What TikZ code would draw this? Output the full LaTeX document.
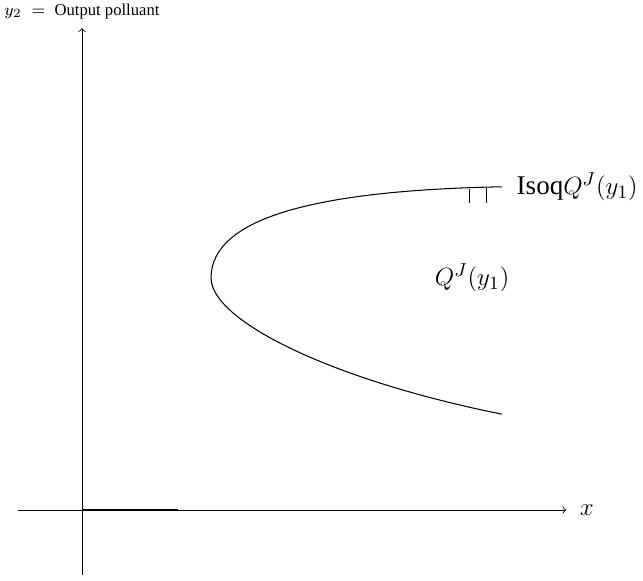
\documentclass[tikz,border=0pt]{standalone}
\usepackage[no-math]{fontspec}
\setmainfont{Liberation Serif}
\usetikzlibrary{positioning}

\begin{document}
\begin{tikzpicture}[
  axis/.style={->, >=to},
  isoq/.style={line width=0.5pt},
  every node/.style={font=\fontsize{13}{15}\selectfont}
]
\useasboundingbox (-1.385,-1.182) rectangle (9.476,8.615);

% axes
\coordinate (O) at (0,0);
\coordinate (xend) at (8.18,0);
\coordinate (yend) at (0,8.14);
\draw[axis] (-1.08,0) -- (xend) node[right=3pt] (xlab) {$x$};
\draw[axis] (0,-1.10) -- (yend)
  node[above=1pt, font=\footnotesize] (ylab) {$y_2 \;=\;$ Output polluant};
\draw[line width=0.6pt] (O) -- (1.62,0);

% the isoquant
\coordinate (top) at (7.09,5.46);
\coordinate (tip) at (2.18,3.92);
\coordinate (bot) at (7.09,1.62);
\draw[isoq] (top) .. controls (4.0,5.40) and (2.18,4.95) .. (tip)
  .. controls (2.18,3.2) and (4.2,2.2) .. (bot);

% hatching on the upper branch
\draw (6.54,5.43) -- (6.54,5.19);
\draw (6.83,5.44) -- (6.83,5.19);

\node[right=6pt of top, inner sep=1pt] (isolab) {Isoq$Q^J(y_1)$};
\node (setlab) at (6.59,3.92) {$Q^J(y_1)$};
\end{tikzpicture}
\end{document}
